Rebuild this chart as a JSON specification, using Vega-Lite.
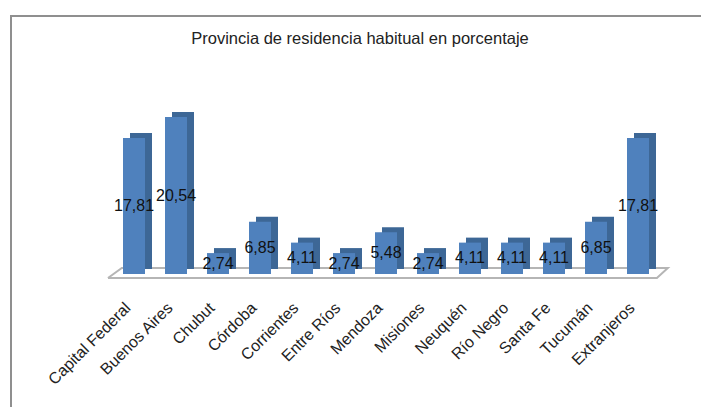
{
"$schema":"https://vega.github.io/schema/vega-lite/v6.json",
"autosize":{"type":"none"},
"padding":{"left":11,"top":16,"right":0,"bottom":0},
"width":720,"height":420,
"background":"white",
"view":{"stroke":"#8f8f8f","strokeWidth":2,"fill":"white"},
"title":{"text":"Provincia de residencia habitual en porcentaje","font":"Liberation Sans","fontSize":16.5,"fontWeight":"normal","color":"#222222","anchor":"middle","frame":"group","dx":-11,"offset":-31},
"datasets":{
"rows":[
{"provincia":"Capital Federal","valor":17.81,"etiqueta":"17,81"},
{"provincia":"Buenos Aires","valor":20.54,"etiqueta":"20,54"},
{"provincia":"Chubut","valor":2.74,"etiqueta":"2,74"},
{"provincia":"Córdoba","valor":6.85,"etiqueta":"6,85"},
{"provincia":"Corrientes","valor":4.11,"etiqueta":"4,11"},
{"provincia":"Entre Ríos","valor":2.74,"etiqueta":"2,74"},
{"provincia":"Mendoza","valor":5.48,"etiqueta":"5,48"},
{"provincia":"Misiones","valor":2.74,"etiqueta":"2,74"},
{"provincia":"Neuquén","valor":4.11,"etiqueta":"4,11"},
{"provincia":"Río Negro","valor":4.11,"etiqueta":"4,11"},
{"provincia":"Santa Fe","valor":4.11,"etiqueta":"4,11"},
{"provincia":"Tucumán","valor":6.85,"etiqueta":"6,85"},
{"provincia":"Extranjeros","valor":17.81,"etiqueta":"17,81"}
],
"floor":[
{"o":1,"p":-0.12,"v":-0.52},
{"o":2,"p":12.95,"v":-0.52},
{"o":3,"p":13.21,"v":0.79},
{"o":4,"p":0.21,"v":0.79},
{"o":5,"p":-0.12,"v":-0.52}
]
},
"layer":[
{"data":{"name":"floor"},
 "mark":{"type":"line","color":"#b5b5b5","strokeWidth":2,"clip":false},
 "encoding":{
  "x":{"field":"p","type":"quantitative","axis":null,"scale":{"domain":[0,13],"range":[102,648],"zero":false,"nice":false}},
  "y":{"field":"v","type":"quantitative","axis":null,"scale":{"domain":[-21.2,33.77],"nice":false,"zero":false}},
  "order":{"field":"o","type":"quantitative"}
 }},
{"data":{"name":"rows"},
 "mark":{"type":"bar","width":22,"color":"#3d6796","xOffset":7,"yOffset":-5,"y2Offset":-5},
 "encoding":{
  "x":{"field":"provincia","type":"nominal","sort":null,"axis":null,"scale":{"range":[102,648],"paddingInner":0,"paddingOuter":0}},
  "y":{"field":"valor","type":"quantitative","axis":null,"scale":{"domain":[-21.2,33.77],"nice":false}}
 }},
{"data":{"name":"rows"},
 "mark":{"type":"bar","width":22,"color":"#4f81bd"},
 "encoding":{
  "x":{"field":"provincia","type":"nominal","sort":null,"title":null,"scale":{"range":[102,648],"paddingInner":0,"paddingOuter":0},
   "axis":{"orient":"bottom","offset":-162,"labelAngle":-45,"labelAlign":"right","labelBaseline":"middle","labelPadding":31,"labelOffset":-6,"labelFont":"Liberation Sans","labelFontSize":16,"labelColor":"#222222","labelOverlap":false,"labelLimit":0,"domain":false,"ticks":false,"grid":false}},
  "y":{"field":"valor","type":"quantitative","axis":null,"scale":{"domain":[-21.2,33.77],"nice":false}}
 }},
{"data":{"name":"rows"},
 "mark":{"type":"text","font":"Liberation Sans","fontSize":16,"color":"#111111","align":"center","baseline":"middle"},
 "encoding":{
  "x":{"field":"provincia","type":"nominal","sort":null,"axis":null,"scale":{"range":[102,648],"paddingInner":0,"paddingOuter":0}},
  "y":{"field":"valor","type":"quantitative","axis":null,"scale":{"domain":[-42.4,67.54],"nice":false}},
  "text":{"field":"etiqueta","type":"nominal"}
 }}
],
"resolve":{"scale":{"x":"independent","y":"independent"}},
"config":{"axis":{"grid":false}}
}
